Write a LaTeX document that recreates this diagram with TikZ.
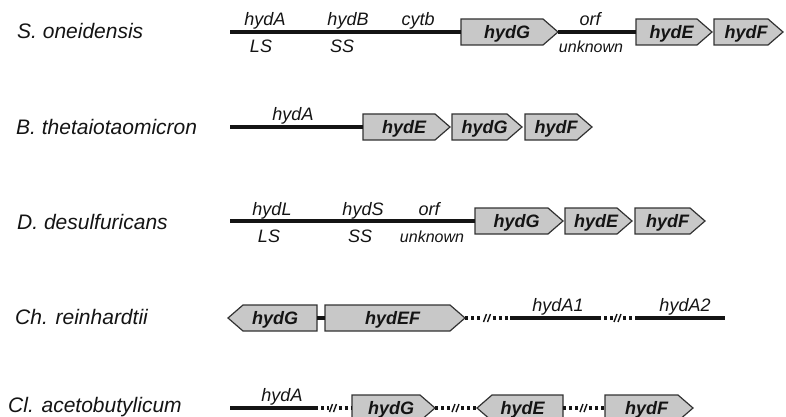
\documentclass[tikz,border=0pt]{standalone}
\usepackage{fontspec}
\setmainfont{Liberation Sans}
\usetikzlibrary{calc}

\definecolor{boxfill}{RGB}{200,200,200}
\definecolor{boxline}{RGB}{50,50,50}
\definecolor{ink}{RGB}{20,20,20}

\tikzset{
  genebox/.style={draw=boxline, fill=boxfill, line width=1.2pt, line join=miter},
  genetext/.style={font=\fontsize{18}{20}\selectfont\bfseries\itshape, text=ink, inner sep=0pt, anchor=base},
  species/.style={font=\fontsize{21}{24}\selectfont\itshape, text=ink, anchor=base west, inner sep=0pt},
  upper/.style={font=\fontsize{18}{20}\selectfont\itshape, text=ink, anchor=base, inner sep=0pt},
  small/.style={font=\fontsize{16}{18}\selectfont\itshape, text=ink, anchor=base, inner sep=0pt},
  dna/.style={line width=3.2pt, draw=ink},
  dotdna/.style={line width=3.2pt, draw=ink, dash pattern=on 3pt off 3pt},
  slash/.style={line width=1.4pt, draw=ink},
}

% gene pointing right: name, left x, tip x, axis y, label
\newcommand\generight[5]{%
  \draw[genebox] (#2,{#4-13}) -- ({#3-15},{#4-13}) -- (#3,#4)
    -- ({#3-15},{#4+13}) -- (#2,{#4+13}) -- cycle;
  \coordinate (#1-l) at (#2,#4);
  \coordinate (#1-r) at (#3,#4);
  \node[genetext] (#1) at ({(#2+#3)/2-2.5},{#4+6.5}) {#5};
}
% gene pointing left: name, tip x, right x, axis y, label
\newcommand\geneleft[5]{%
  \draw[genebox] (#2,#4) -- ({#2+15},{#4-13}) -- (#3,{#4-13})
    -- (#3,{#4+13}) -- ({#2+15},{#4+13}) -- cycle;
  \coordinate (#1-l) at (#2,#4);
  \coordinate (#1-r) at (#3,#4);
  \node[genetext] (#1) at ({(#2+#3)/2+2.5},{#4+6.5}) {#5};
}
% interrupted stretch of the chromosome between two points
\newcommand\brokenlink[2]{%
  \coordinate (bkm) at ($(#1)!0.5!(#2)$);
  \draw[dotdna] (#1) -- ([xshift=-5pt]bkm);
  \draw[dotdna] ([xshift=5pt]bkm) -- (#2);
  \draw[slash] ([xshift=-4pt,yshift=-4pt]bkm) -- ([xshift=-1pt,yshift=4pt]bkm);
  \draw[slash] ([xshift=0pt,yshift=-4pt]bkm) -- ([xshift=3pt,yshift=4pt]bkm);
}

\begin{document}
\begin{tikzpicture}[x=1pt,y=-1pt]
\useasboundingbox (0,0) rectangle (786,417);

% species names
\node[species] (sp1) at (17,39)  {S. oneidensis};
\node[species] (sp2) at (16,135) {B. thetaiotaomicron};
\node[species] (sp3) at (17,229) {D. desulfuricans};
\node[species] (sp4) at (15,324) {Ch. reinhardtii};
\node[species] (sp5) at (8,412)  {Cl. acetobutylicum};

% S. oneidensis
\coordinate (s1) at (230,32);
\generight{aG}{461}{558}{32}{hydG}
\generight{aE}{636}{712}{32}{hydE}
\generight{aF}{714}{783}{32}{hydF}
\draw[dna] (s1) -- (aG-l);
\draw[dna] (aG-r) -- (aE-l);
\node[upper] (aA)  at (265,26) {hydA};
\node[upper] (aLS) at (261,53) {LS};
\node[upper] (aB)  at (348,26) {hydB};
\node[upper] (aSS) at (342,53) {SS};
\node[upper] (aC)  at (418,26) {cytb};
\node[upper] (aO)  at (590,26) {orf};
\node[small] (aU)  at (591,53) {unknown};

% B. thetaiotaomicron
\coordinate (s2) at (230,127);
\generight{bE}{363}{450}{127}{hydE}
\generight{bG}{452}{522}{127}{hydG}
\generight{bF}{525}{592}{127}{hydF}
\draw[dna] (s2) -- (bE-l);
\node[upper] (bA) at (293,121) {hydA};

% D. desulfuricans
\coordinate (s3) at (230,221);
\generight{cG}{475}{563}{221}{hydG}
\generight{cE}{565}{632}{221}{hydE}
\generight{cF}{635}{705}{221}{hydF}
\draw[dna] (s3) -- (cG-l);
\node[upper] (cL)  at (272,215) {hydL};
\node[upper] (cS)  at (363,215) {hydS};
\node[upper] (cO)  at (429,215) {orf};
\node[upper] (cLS) at (269,242) {LS};
\node[upper] (cSS) at (360,242) {SS};
\node[small] (cU)  at (432,242) {unknown};

% Ch. reinhardtii
\geneleft{dG}{228}{317}{318}{hydG}
\generight{dEF}{325}{465}{318}{hydEF}
\draw[dna] (dG-r) -- (dEF-l);
\coordinate (dA1l) at (510,318);
\coordinate (dA1r) at (598,318);
\coordinate (dA2l) at (638,318);
\coordinate (dA2r) at (725,318);
\brokenlink{dEF-r}{dA1l}
\draw[dna] (dA1l) -- (dA1r);
\brokenlink{dA1r}{dA2l}
\draw[dna] (dA2l) -- (dA2r);
\node[upper] (dA1) at (558,311) {hydA1};
\node[upper] (dA2) at (685,311) {hydA2};

% Cl. acetobutylicum
\coordinate (eAl) at (230,408);
\coordinate (eAr) at (315,408);
\generight{eG}{352}{435}{408}{hydG}
\geneleft{eE}{477}{563}{408}{hydE}
\generight{eF}{605}{693}{408}{hydF}
\draw[dna] (eAl) -- (eAr);
\brokenlink{eAr}{eG-l}
\brokenlink{eG-r}{eE-l}
\brokenlink{eE-r}{eF-l}
\node[upper] (eA) at (282,401) {hydA};
\end{tikzpicture}
\end{document}
